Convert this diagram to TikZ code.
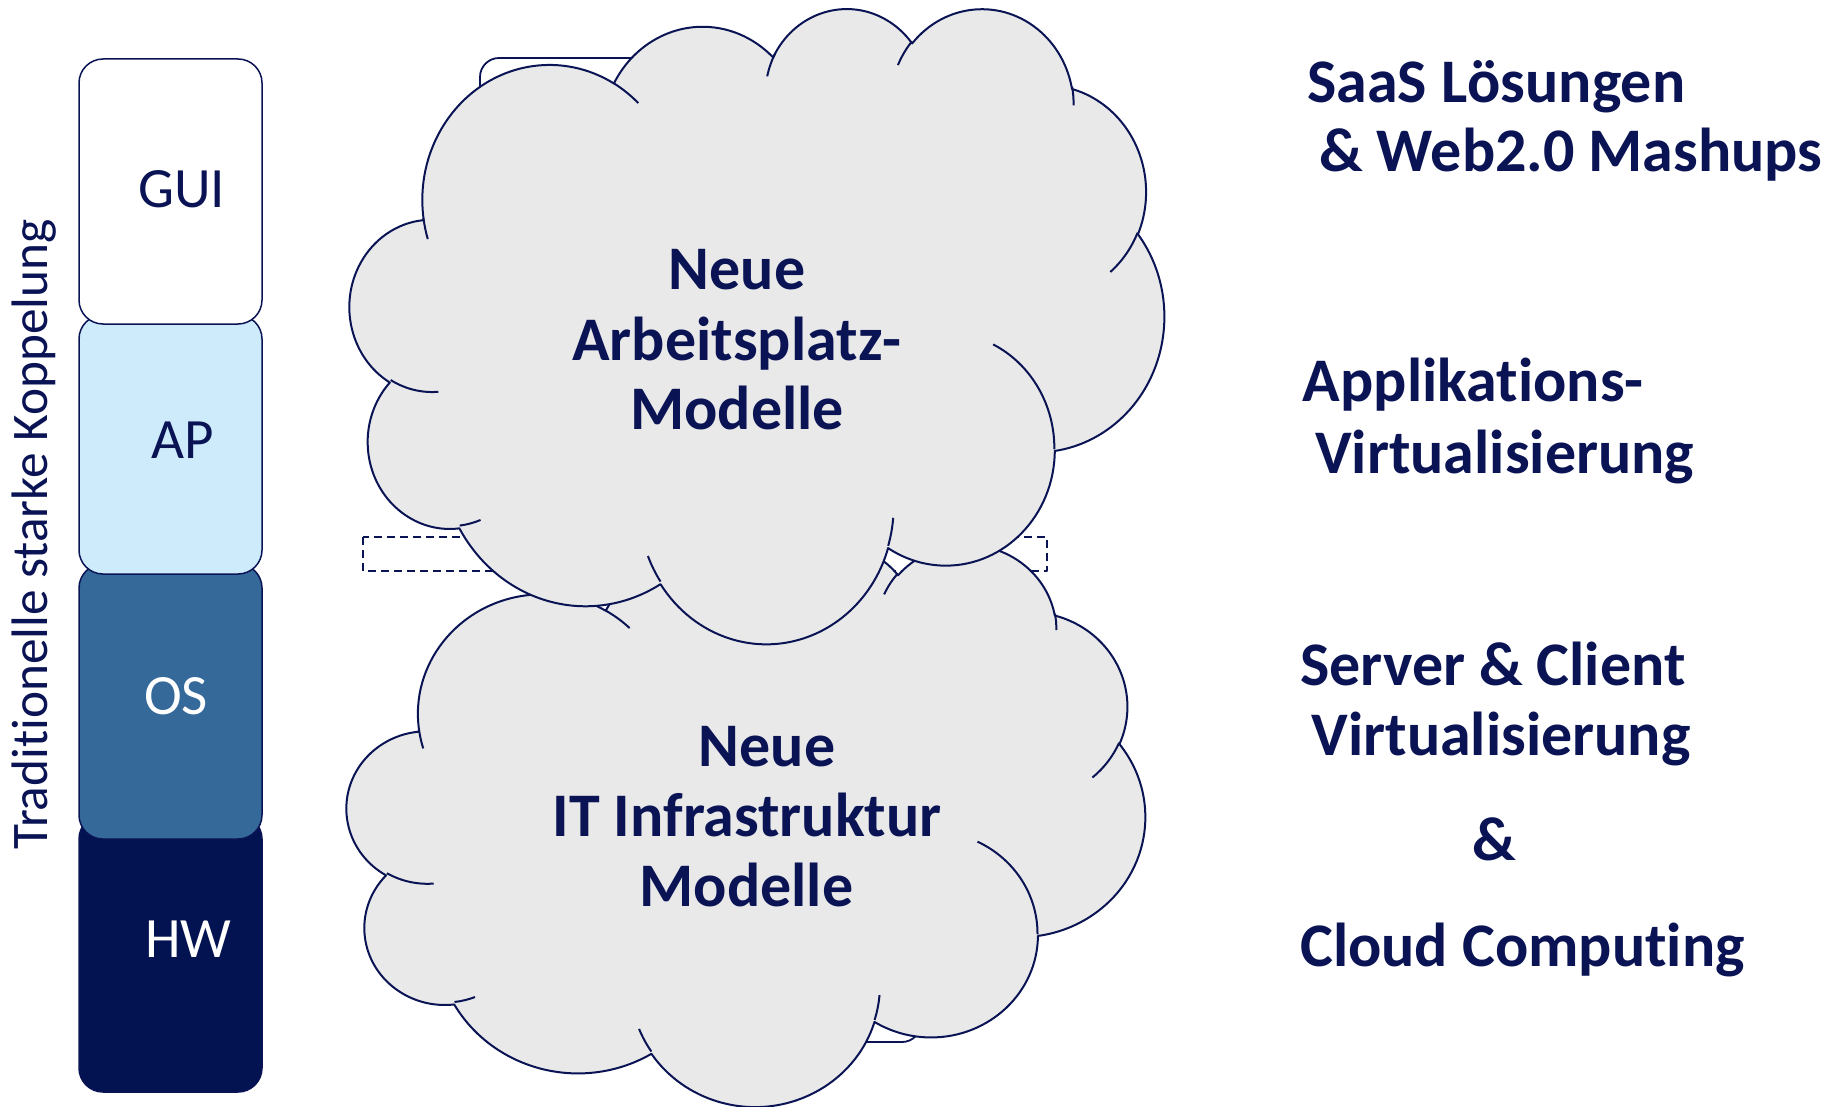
\documentclass[tikz,border=0pt]{standalone}
\usepackage{fontspec}
\setmainfont{Carlito}[Ligatures=NoCommon]
\definecolor{navy}{HTML}{0A1454}
\definecolor{hwblue}{HTML}{031251}
\definecolor{osblue}{HTML}{34699A}
\definecolor{apblue}{HTML}{CDEBFB}
\definecolor{cloudgray}{HTML}{E9E9E9}
% OOXML-style arcTo: name, wR, hR, start angle, sweep angle (visual angles)
\newcommand\ooprep[5]{%
  \pgfmathsetmacro\tmpangS{atan2((#2)*sin(#4),(#3)*cos(#4))}%
  \pgfmathsetmacro\tmpangT{atan2((#2)*sin((#4)+(#5)),(#3)*cos((#4)+(#5)))}%
  \pgfmathsetmacro\tmpangT{\tmpangT<\tmpangS ? \tmpangT+360 : \tmpangT}%
  \expandafter\xdef\csname cld#1\endcsname{ arc[start angle=\tmpangS, end angle=\tmpangT, x radius=#2, y radius=#3]}%
}
\newcommand\cloudoutline{(390,1437) \cldA \cldB \cldC \cldD \cldE \cldF \cldG \cldH \cldI \cldJ \cldK -- cycle}
\newcommand\cloudcreases{%
  (469.3,2617.7) \cldIA (692.8,3489.9) \cldIB (1647.8,3909.0) \cldIC
  (2882.7,3475.1) \cldID (3412.9,2295.4) \cldIE (4179.8,1535.4) \cldIF
  (3832.4,542.6) \cldIG (2907.8,395.2) \cldIH (2214.1,472.0) \cldII
  (1400.0,519.2) \cldIJ (412.7,1578.9) \cldIK}
\ooprep{A}{675.3}{919.0}{-190.487483}{123.780533}
\ooprep{B}{533.3}{726.7}{-144.102383}{89.945233}
\ooprep{C}{436.5}{594.5}{-145.807917}{99.723017}
\ooprep{D}{485.7}{659.5}{-130.986067}{117.241733}
\ooprep{E}{533.3}{727.3}{-78.708883}{109.026917}
\ooprep{F}{677.5}{922.0}{-46.26725}{130.269}
\ooprep{G}{578.5}{786.7}{0.625017}{114.033333}
\ooprep{H}{675.2}{921.5}{22.4516}{115.17255}
\ooprep{I}{772.0}{1054.3}{66.242633}{75.711017}
\ooprep{J}{436.0}{591.8}{-274.942083}{146.735567}
\ooprep{K}{434.5}{594.5}{-246.8285}{152.51885}
\ooprep{IA}{434.5}{594.5}{86.742}{26.4295}
\ooprep{IB}{436.0}{591.8}{73.610467}{11.447467}
\ooprep{IC}{675.2}{921.5}{137.62415}{14.0811}
\ooprep{ID}{675.2}{921.5}{6.453267}{15.99835}
\ooprep{IE}{578.5}{786.7}{-70.29235}{70.917367}
\ooprep{IF}{533.3}{727.3}{30.318033}{27.7515}
\ooprep{IG}{485.7}{659.5}{-13.744333}{14.8589}
\ooprep{IH}{485.7}{659.5}{-149.18145}{18.195367}
\ooprep{II}{436.5}{594.5}{-163.494267}{19.5118}
\ooprep{IJ}{675.3}{919.0}{-66.70695}{12.31935}
\ooprep{IK}{675.3}{919.0}{157.65435}{11.858167}
\edef\drawcloudbody{\noexpand\path[cloudbody] \cloudoutline;}
\edef\drawcloudcreases{\noexpand\path[cloudcrease] \cloudcreases;}
\begin{document}
\begin{tikzpicture}[x=1pt,y=-1pt,line join=round,
  layer/.style={draw=navy,line width=1.5pt,rounded corners=24pt},
  stacklbl/.style={font=\fontsize{57}{60}\selectfont,anchor=base west,inner sep=0pt},
  cloudtxt/.style={font=\fontsize{62}{70}\selectfont\bfseries,text=navy,anchor=base,inner sep=0pt},
  sidetxt/.style={font=\fontsize{62}{70}\selectfont\bfseries,text=navy,anchor=base west,inner sep=0pt},
  cloudbody/.style={fill=cloudgray,draw=navy,line width=2pt},
  cloudcrease/.style={draw=navy,line width=2pt},
  backbox/.style={draw=navy,line width=1.8pt,rounded corners=19pt}]
\useasboundingbox[fill=white] (0,0) rectangle (1827,1107);

% layer stack (lower layers first)
\draw[layer,fill=hwblue] (79,815) rectangle (262,1092);
\draw[layer,fill=osblue] (79,564) rectangle (262,839);
\draw[layer,fill=apblue] (79,315) rectangle (262,574);
\draw[layer,fill=white] (79,59) rectangle (262,324);
\node[stacklbl,text=navy] (gui) at (138,208) {GUI};
\node[stacklbl,text=navy] (ap) at (151,458) {AP};
\node[stacklbl,text=white] (os) at (144,714) {OS};
\node[stacklbl,text=white] (hw) at (145,957) {HW};
\node[font=\fontsize{51.3}{60}\selectfont,text=navy,rotate=90,anchor=base,inner sep=0pt] (koppl) at (47,534.5) {Traditionelle starke Koppelung};

% boxes hidden behind the clouds
\draw[backbox] (480,58) rectangle (700,400);
\draw[backbox] (700,700) rectangle (921,1042);
\draw[navy,line width=1.8pt,dash pattern=on 8pt off 5pt] (363,537) rectangle (1047,571);

% lower cloud
\begin{scope}[shift={(347,543)},x=0.184722pt,y=-0.130093pt]
  \drawcloudbody
  \drawcloudcreases
\end{scope}
% upper cloud
\begin{scope}[shift={(350,7)},x=0.188426pt,y=-0.146991pt]
  \drawcloudbody
  \drawcloudcreases
\end{scope}

\node[cloudtxt] (c1a) at (737,289) {Neue};
\node[cloudtxt] (c1b) at (737,360) {Arbeitsplatz-};
\node[cloudtxt] (c1c) at (737,429.4) {Modelle};
\node[cloudtxt] (c2a) at (767,766) {Neue};
\node[cloudtxt] (c2b) at (747,836.4) {IT Infrastruktur};
\node[cloudtxt] (c2c) at (746.4,906.4) {Modelle};

\node[sidetxt] (s1) at (1307,102.5) {SaaS Lösungen};
\node[sidetxt] (s2) at (1319,171.7) {\& Web2.0 Mashups};
\node[sidetxt] (s3) at (1302.7,401.3) {Applikations-};
\node[sidetxt] (s4) at (1315,473.5) {Virtualisierung};
\node[sidetxt] (s5) at (1300,685) {Server \& Client};
\node[sidetxt] (s6) at (1311.4,755.4) {Virtualisierung};
\node[sidetxt] (s7) at (1472,860.5) {\&};
\node[sidetxt] (s8) at (1300,966.5) {Cloud Computing};
\end{tikzpicture}
\end{document}
